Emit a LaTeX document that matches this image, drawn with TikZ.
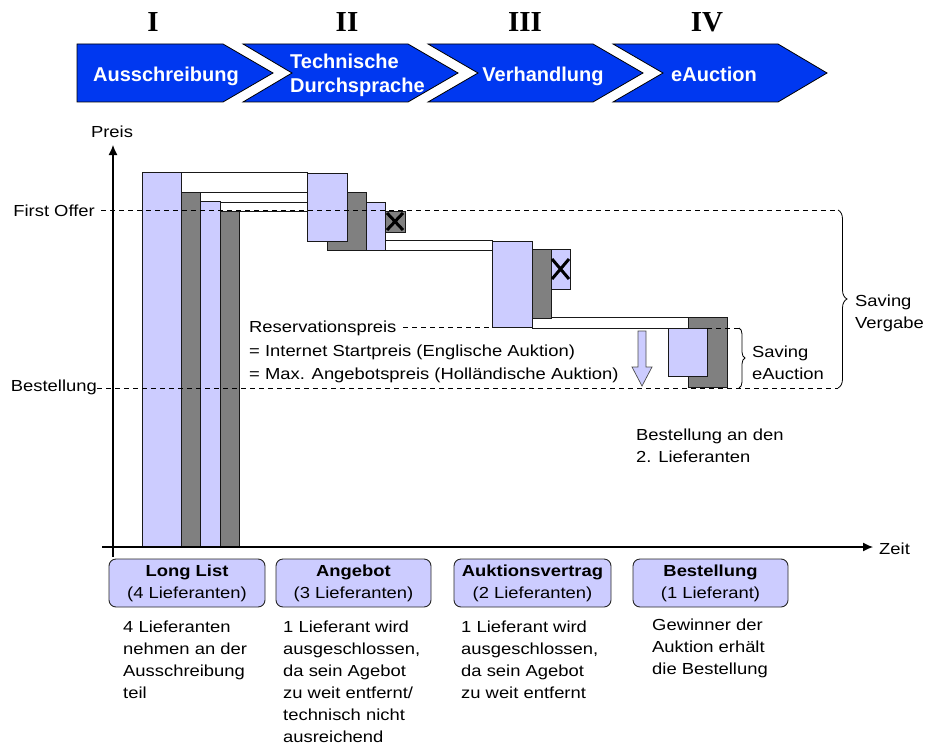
\documentclass[tikz,border=0pt]{standalone}
\usepackage{fontspec}
\setmainfont{Liberation Sans}[FakeStretch=1.15]
\newfontfamily\chevfont{Liberation Sans}
\newfontfamily\romfont{Liberation Serif}
\usetikzlibrary{arrows.meta,decorations.pathreplacing}
\definecolor{lavc}{RGB}{204,204,255}
\definecolor{grayc}{RGB}{128,128,128}
\definecolor{chevblue}{RGB}{0,56,240}
\begin{document}
\begin{tikzpicture}[x=1pt,y=-1pt,
  lav/.style={fill=lavc,draw=black!90,line width=0.9pt},
  drk/.style={fill=grayc,draw=black!90,line width=0.9pt},
  wht/.style={fill=white,draw=black!90,line width=0.9pt},
  chev/.style={fill=chevblue,draw=black,line width=0.8pt},
  chevtxt/.style={text=white,font=\chevfont\bfseries\fontsize{20}{24}\selectfont,inner sep=0pt},
  roman/.style={font=\romfont\bfseries\fontsize{29}{30}\selectfont,inner sep=0pt},
  lbl/.style={font=\fontsize{16}{22}\selectfont,inner sep=0pt},
  dsh/.style={dash pattern=on 5pt off 4pt,line width=0.8pt},
  xmark/.style={line width=3pt},
  axis/.style={line width=1.2pt,-{Latex[length=10pt,width=9pt]}},
  boxn/.style={draw=black!85,fill=lavc,rounded corners=7pt,line width=0.9pt,
    minimum height=48pt,align=center,inner sep=0pt,font=\fontsize{16}{22}\selectfont},
  desc/.style={lbl,align=left,anchor=north west},
  brc/.style={decorate,line width=0.8pt}]
\useasboundingbox (0,0) rectangle (928,749);

% Roman numerals
\node[roman,anchor=base] (r1) at (153,32) {I};
\node[roman,anchor=base] (r2) at (347,32) {II};
\node[roman,anchor=base] (r3) at (525,32) {III};
\node[roman,anchor=base] (r4) at (707,32) {IV};

% Chevrons
\path[chev] (77,44) -- (223,44) -- (273,73) -- (223,102) -- (77,102) -- cycle;
\path[chev] (243,44) -- (408,44) -- (458,73) -- (408,102) -- (243,102) -- (292,73) -- cycle;
\path[chev] (428,44) -- (593,44) -- (643,73) -- (593,102) -- (428,102) -- (478,73) -- cycle;
\path[chev] (613,44) -- (778,44) -- (827,73) -- (778,102) -- (613,102) -- (663,73) -- cycle;
\node[chevtxt,anchor=base] (c1) at (166,82) {Ausschreibung};
\node[chevtxt,align=left,anchor=west] (c2) at (290,75) {Technische\\Durchsprache};
\node[chevtxt,anchor=base] (c3) at (543,82) {Verhandlung};
\node[chevtxt,anchor=base] (c4) at (714,82) {eAuction};

% Long list connectors
\path[wht] (181,172) rectangle (307,192);
\path[wht] (200,192) rectangle (307,202);
\path[wht] (220,202) rectangle (307,211);
% Long list bars
\path[lav] (142,172) rectangle (181,547);
\path[drk] (181,192) rectangle (200,547);
\path[lav] (200,201) rectangle (220,547);
\path[drk] (220,211) rectangle (239,547);

% Angebot
\path[wht] (385,240) rectangle (492,250);
\path[drk] (327,192) rectangle (366,250);
\path[lav] (307,173) rectangle (347,241);
\path[lav] (366,202) rectangle (385,250);
\path[drk] (385,211) rectangle (405,232);
\draw[xmark] (387,213) -- (403,230) (387,230) -- (403,213);

% Verhandlung
\path[wht] (532,317) rectangle (688,328);
\path[lav] (492,241) rectangle (532,327);
\path[drk] (532,249) rectangle (551,318);
\path[lav] (551,249) rectangle (570,289);
\draw[xmark] (552,259) -- (569,279) (552,279) -- (569,259);

% eAuction
\path[drk] (688,317) rectangle (727,387);
\path[lav] (668,328) rectangle (707,376);

% Down arrow
\path[fill=lavc,draw=black!70,line width=0.7pt] (638,331) -- (646,331) -- (646,367) -- (652,367) -- (642,386) -- (632,367) -- (638,367) -- cycle;

% Dashed lines
\node[lbl,anchor=base east] (fo) at (95,216) {First Offer};
\node[lbl,anchor=base east] (bst) at (97,391) {Bestellung};
\coordinate (foa) at (101,210);
\coordinate (fob) at (838,210);
\coordinate (bsa) at (97,388);
\coordinate (bsb) at (838,388);
\draw[dsh] (foa) -- (fob);
\draw[dsh] (bsa) -- (bsb);
\node[lbl,anchor=base west] (rp1) at (249,332) {Reservationspreis};
\node[lbl,anchor=base west] (rp2) at (249,356) {= Internet Startpreis (Englische Auktion)};
\node[lbl,anchor=base west] (rp3) at (249,379) {= Max. Angebotspreis (Holländische Auktion)};
\coordinate (rpa) at (403,327);
\coordinate (rpb) at (492,327);
\coordinate (rpc) at (707,328);
\coordinate (rpd) at (739,328);
\draw[dsh] (rpa) -- (rpb);
\draw[dsh] (rpc) -- (rpd);

% Braces
\draw[brc,decoration={brace,amplitude=9pt}] (fob) -- (bsb);
\coordinate (sea) at (739,328);
\coordinate (seb) at (739,388);
\draw[brc,decoration={brace,amplitude=6pt}] (sea) -- (seb);
\node[lbl,align=left,anchor=west] (sv) at (855,313) {Saving\\Vergabe};
\node[lbl,align=left,anchor=west] (se) at (752,363) {Saving\\eAuction};

% Axes
\coordinate (yb) at (113,557);
\coordinate (yt) at (113,145);
\coordinate (xa) at (102,547);
\coordinate (xb) at (873,547);
\draw[axis] (yb) -- (yt);
\draw[axis] (xa) -- (xb);
\node[lbl,anchor=base] (preis) at (112,137) {Preis};
\node[lbl,anchor=base west] (zeit) at (879,554) {Zeit};

\node[lbl,align=left,anchor=north west] (ban) at (636,429) {Bestellung an den\\2. Lieferanten};

% Bottom boxes
\node[boxn,minimum width=156pt] (b1) at (187,583) {\textbf{Long List}\\(4 Lieferanten)};
\node[boxn,minimum width=155pt] (b2) at (353.5,583) {\textbf{Angebot}\\(3 Lieferanten)};
\node[boxn,minimum width=157pt] (b3) at (532.5,583) {\textbf{Auktionsvertrag}\\(2 Lieferanten)};
\node[boxn,minimum width=155pt] (b4) at (710.5,583) {\textbf{Bestellung}\\(1 Lieferant)};

\node[desc] (d1) at (123,621) {4 Lieferanten\\nehmen an der\\Ausschreibung\\teil};
\node[desc] (d2) at (283,621) {1 Lieferant wird\\ausgeschlossen,\\da sein Agebot\\zu weit entfernt/\\technisch nicht\\ausreichend};
\node[desc] (d3) at (461,621) {1 Lieferant wird\\ausgeschlossen,\\da sein Agebot\\zu weit entfernt};
\node[desc] (d4) at (652,619) {Gewinner der\\Auktion erhält\\die Bestellung};
\end{tikzpicture}
\end{document}
